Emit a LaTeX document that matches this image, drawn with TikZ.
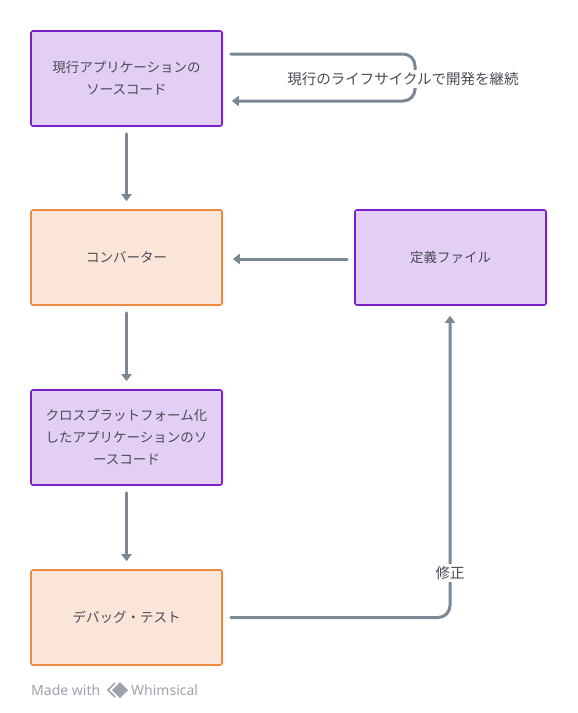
\documentclass[tikz,border=0pt]{standalone}
\usepackage{fontspec}
\setmainfont{Noto Sans CJK JP}
\newfontfamily\markfont{Noto Sans}
\usetikzlibrary{arrows.meta}

\definecolor{lilacfill}{HTML}{E3CEF4}
\definecolor{lilacline}{HTML}{7B1FC9}
\definecolor{peachfill}{HTML}{FAE5D8}
\definecolor{peachline}{HTML}{EE8A3F}
\definecolor{flowgray}{HTML}{7A8794}
\definecolor{textgray}{HTML}{4B4B55}
\definecolor{markgray}{HTML}{9CA3AB}

\tikzset{
  box/.style={draw, line width=1.6pt, rounded corners=2pt, minimum width=191pt,
    minimum height=95pt, align=center, text=textgray,
    font=\fontsize{13.5}{22}\selectfont},
  codebox/.style={box, draw=lilacline, fill=lilacfill},
  workbox/.style={box, draw=peachline, fill=peachfill},
  flow/.style={draw=flowgray, line width=3pt, line cap=round,
    -{Triangle[length=7pt,width=10pt]}},
  flowlabel/.style={fill=white, text=textgray, inner sep=2pt,
    font=\fontsize{14.5}{18}\selectfont},
  marktext/.style={anchor=west, text=markgray, inner sep=0pt,
    font=\markfont\fontsize{14}{16}\selectfont}
}

\begin{document}
\begin{tikzpicture}[x=1pt,y=1pt]

\useasboundingbox (0,0) rectangle (578,-713);

\node[codebox] (src) at (126.5,-78.5) {現行アプリケーションの\\ソースコード};
\node[workbox] (conv) at (126.5,-257.5) {コンバーター};
\node[codebox] (cross) at (126.5,-437.5) {クロスプラットフォーム化\\したアプリケーションのソ\\ースコード};
\node[workbox] (debug) at (126.5,-617.5) {デバッグ・テスト};
\node[codebox] (def) at (450.5,-257.5) {定義ファイル};

\coordinate (loopR) at (415,-78);

\draw[flow] ([yshift=-7pt]src.south) -- ([yshift=8pt]conv.north);
\draw[flow] ([yshift=-7pt]conv.south) -- ([yshift=8pt]cross.north);
\draw[flow] ([yshift=-7pt]cross.south) -- ([yshift=8pt]debug.north);
\draw[flow] ([xshift=-7pt,yshift=-1.5pt]def.west) -- ([xshift=10pt,yshift=-1.5pt]conv.east);

\draw[flow, rounded corners=12pt] ([xshift=8pt,yshift=24.5pt]src.east) -| (loopR)
  |- ([xshift=9pt,yshift=-22.5pt]src.east);
\node[flowlabel] (keep) at (403,-79) {現行のライフサイクルで開発を継続};

\draw[flow, rounded corners=12pt] ([xshift=8pt]debug.east) -| ([xshift=-0.5pt,yshift=-10pt]def.south);
\node[flowlabel] (fix) at (450,-573) {修正};

% watermark
\node[marktext] (made) at (31,-690) {Made with};
\draw[markgray, line width=1.6pt] (115,-683) -- (108,-690) -- (115,-697);
\fill[markgray] (120,-682) -- (128,-690) -- (120,-698) -- (112,-690) -- cycle;
\node[marktext] (whim) at (131,-690) {Whimsical};

\end{tikzpicture}
\end{document}
